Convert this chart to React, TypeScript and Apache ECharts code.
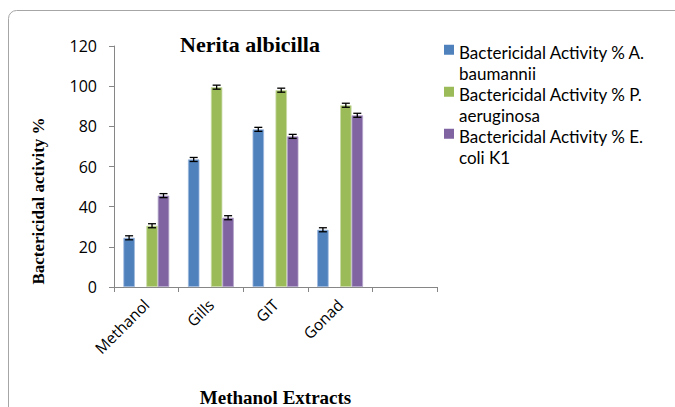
import React, { useEffect, useRef } from "react";
import * as echarts from "echarts";

const categories = ["Methanol", "Gills", "GIT", "Gonad", ""];
const seriesNames = [
  "Bactericidal Activity % A. baumannii",
  "Bactericidal Activity % P. aeruginosa",
  "Bactericidal Activity % E. coli K1",
];
const baumannii = [24.5, 63.5, 78.5, 28.5, null];
const aeruginosa = [30.5, 99.5, 98, 90.5, null];
const coli = [45.5, 34.5, 75, 85.5, null];
const errBaumannii = [1, 1, 1, 1];
const errAeruginosa = [1, 1, 1, 1];
const errColi = [1, 1, 1, 1];
const yTicks = { min: 0, max: 120, interval: 20 };

const colors = ["#4F81BD", "#9BBB59", "#8064A2"];
const CAT_GAP = 0.29;
const SLOTS = 4;
const LINE_H = 21;
// legend icon: a square aligned with the first text line, in a box as tall as two lines
const LEGEND_ICON = "path://M0,5.5L10,5.5L10,15.5L0,15.5Z M0,42L10,42";

function errSeries(values: (number | null)[], errs: number[], slot: number) {
  const data = values
    .map((v, i) => (v == null ? null : [i, v, errs[i]]))
    .filter((d) => d != null);
  return {
    type: "custom",
    silent: true,
    z: 5,
    encode: { x: 0, y: 1 },
    data,
    renderItem: (params: any, api: any) => {
      const xi = api.value(0);
      const v = api.value(1);
      const e = api.value(2);
      const base = api.coord([xi, v]);
      const catW = api.size([1, 0])[0];
      const barW = (catW * (1 - CAT_GAP)) / SLOTS;
      const cx = base[0] - catW / 2 + (catW * CAT_GAP) / 2 + barW * (slot + 0.5);
      const yTop = api.coord([xi, v + e])[1];
      const yBot = api.coord([xi, v - e])[1];
      const half = 4;
      const style = { stroke: "#000", lineWidth: 1.3 };
      return {
        type: "group",
        children: [
          { type: "line", shape: { x1: cx, y1: yTop, x2: cx, y2: yBot }, style },
          { type: "line", shape: { x1: cx - half, y1: yTop, x2: cx + half, y2: yTop }, style },
          { type: "line", shape: { x1: cx - half, y1: yBot, x2: cx + half, y2: yBot }, style },
        ],
      };
    },
  };
}

export default function App() {
  const ref = useRef<HTMLDivElement>(null);
  useEffect(() => {
    if (!ref.current) return;
    const chart = echarts.init(ref.current, undefined, { renderer: "svg" });
    const barBase = {
      type: "bar",
      barGap: "0%",
      barCategoryGap: CAT_GAP * 100 + "%",
    };
    chart.setOption({
      animation: false,
      title: {
        text: "Nerita albicilla",
        left: 180,
        top: 33,
        padding: 0,
        textStyle: {
          fontFamily: "Liberation Serif",
          fontWeight: "bold",
          fontSize: 22,
          color: "#000",
        },
      },
      legend: {
        orient: "vertical",
        left: 444,
        top: 44,
        padding: 0,
        itemWidth: 10,
        itemHeight: 2 * LINE_H,
        itemGap: 4,
        icon: LEGEND_ICON,
        itemStyle: { borderWidth: 0 },
        data: seriesNames,
        formatter: (name: string) => {
          const parts = name.replace(/(% [A-Z]\.) /, "$1\n").split("\n");
          return parts.map((p) => "{t|" + p + "}").join("\n");
        },
        textStyle: {
          fontFamily: "Lato",
          fontSize: 17,
          color: "#000",
          rich: {
            t: {
              fontFamily: "Lato",
              fontSize: 17,
              color: "#000",
              lineHeight: LINE_H,
            },
          },
        },
      },
      grid: { left: 114, right: 238, top: 46, bottom: 120, outerBoundsMode: "none", containLabel: false },
      xAxis: {
        type: "category",
        data: categories,
        name: "Methanol Extracts",
        nameLocation: "middle",
        nameGap: 101,
        nameTextStyle: {
          fontFamily: "Liberation Serif",
          fontWeight: "bold",
          fontSize: 19,
          color: "#000",
        },
        axisLine: { lineStyle: { color: "#868686" } },
        axisTick: { show: true, alignWithLabel: false, length: 5, lineStyle: { color: "#868686" } },
        axisLabel: {
          rotate: 45,
          interval: 0,
          margin: 15,
          fontFamily: "Open Sans",
          fontSize: 15.5,
          color: "#000",
        },
      },
      yAxis: {
        type: "value",
        min: yTicks.min,
        max: yTicks.max,
        interval: yTicks.interval,
        splitLine: { show: false },
        axisLine: { show: true, lineStyle: { color: "#868686" } },
        axisTick: { show: true, length: 5, lineStyle: { color: "#868686" } },
        axisLabel: {
          margin: 17,
          fontFamily: "Open Sans",
          fontSize: 16,
          color: "#000",
        },
      },
      graphic: [
        {
          type: "rect",
          shape: { x: 8.5, y: 10.5, width: 720, height: 450, r: 8 },
          style: { fill: "none", stroke: "#a6a6a6", lineWidth: 1 },
          silent: true,
          z: -10,
        },
        {
          type: "text",
          x: 38,
          y: 201,
          rotation: Math.PI / 2,
          style: {
            text: "Bactericidal activity %",
            fontFamily: "Liberation Serif",
            fontWeight: "bold",
            fontSize: 17,
            fill: "#000",
            align: "center",
            verticalAlign: "middle",
          },
        },
      ],
      series: [
        {
          ...barBase,
          name: seriesNames[0],
          data: baumannii,
          itemStyle: { color: colors[0], borderColor: "#9db8dd", borderWidth: 0.8 },
        },
        {
          ...barBase,
          name: "_gap",
          data: categories.map(() => null),
        },
        {
          ...barBase,
          name: seriesNames[1],
          data: aeruginosa,
          itemStyle: { color: colors[1], borderColor: "#c9dba6", borderWidth: 0.8 },
        },
        {
          ...barBase,
          name: seriesNames[2],
          data: coli,
          itemStyle: { color: colors[2], borderColor: "#b3a3c9", borderWidth: 0.8 },
        },
        errSeries(baumannii, errBaumannii, 0),
        errSeries(aeruginosa, errAeruginosa, 2),
        errSeries(coli, errColi, 3),
      ],
    });
    return () => chart.dispose();
  }, []);
  return (
    <div
      ref={ref}
      style={{ position: "absolute", left: 0, top: 0, width: 675, height: 407, background: "#fff" }}
    />
  );
}
